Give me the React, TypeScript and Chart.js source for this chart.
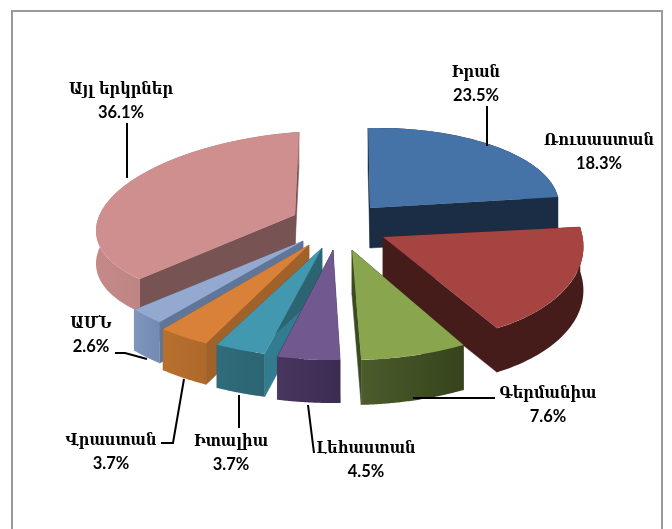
import React, { useEffect, useRef } from "react";
import { Chart, registerables } from "chart.js";

Chart.register(...registerables);

const countries = ["Իրան", "Ռուսաստան", "Գերմանիա", "Լեհաստան", "Իտալիա", "Վրաստան", "ԱՄՆ", "Այլ երկրներ"];
const shares = [23.5, 18.3, 7.6, 4.5, 3.7, 3.7, 2.6, 36.1];

const topColors = ["#4572a7", "#a64442", "#89a54e", "#71588f", "#4198af", "#d98139", "#93a9cf", "#cf8f8e"];
const wallColorsA = ["#1a2d45", "#461c1a", "#4c5c2c", "#49365f", "#2f6c7c", "#b8702e", "#7f96bd", "#c48a89"];
const wallColorsB = ["#1a2d45", "#461c1a", "#36431c", "#3d2c52", "#2c6472", "#ad682a", "#738bb0", "#a87170"];
const startFaceColors = ["#1a2d45", "#461c1a", "#36431c", "#3a2a4f", "#317c8e", "#a0622a", "#5f7699", "#785353"];
const endFaceColors = ["#1a2d45", "#461c1a", "#3c4a20", "#3a2a4f", "#2c6472", "#a0622a", "#5f7699", "#785353"];

// Explosion of each slice from the pie centre, and its fake-perspective projection
const shiftX = [35, 48, 17, -2, -13, -26, -32, -40];
const shiftY = [-18, 11, 24, 24, 22, 19, 15, -11];
const projA = [189, 199.6, 225, 224, 222, 224, 220, 199];
const projB = [-3.5, 0, -1.5, 0, 0, 0, 0, -14];
const projC = [2, 18, 0.7, -1.3, -3.5, 0, 0, -4];
const projD = [80, 105, 110, 110, 109, 111, 107, 83];
const depths = [40, 44, 45, 43, 43, 41, 41, 33];
const drawOrder = [7, 0, 1, 6, 5, 4, 3, 2];

// Label centres and leader lines
const labelX = [476, 599, 548, 366, 231, 111, 91, 121];
const labelY = [73, 141, 394, 449, 442, 441, 324, 90];
const leaders = [
  [[487, 106], [487, 146]],
  [],
  [[413, 398], [495, 398]],
  [[308, 405], [314, 453]],
  [[239, 395], [239, 428]],
  [[161, 443], [173, 443], [184, 379]],
  [[115, 353], [125, 353], [147, 359]],
  [[127, 123], [127, 178]],
];

const pie3d = {
  id: "pie3d",
  beforeDatasetsDraw(chart: any) {
    const ctx = chart.ctx;
    const arcs = chart.getDatasetMeta(0).data;
    for (const i of drawOrder) {
      const arc = arcs[i];
      const ax = arc.x + shiftX[i];
      const ay = arc.y + shiftY[i];
      const a = projA[i], b = projB[i], c = projC[i], d = projD[i];
      const pt = (phi: number, dy = 0): [number, number] => {
        const u = Math.cos(phi), v = Math.sin(phi);
        return [ax + a * u + c * v, ay + b * u + d * v + dy];
      };
      const s = arc.startAngle, e = arc.endAngle, h = depths[i];
      const quad = (phi: number, col: string) => {
        const p = pt(phi);
        ctx.beginPath();
        ctx.moveTo(ax, ay);
        ctx.lineTo(p[0], p[1]);
        ctx.lineTo(p[0], p[1] + h);
        ctx.lineTo(ax, ay + h);
        ctx.closePath();
        ctx.fillStyle = col;
        ctx.strokeStyle = col;
        ctx.lineWidth = 0.5;
        ctx.fill();
        ctx.stroke();
      };
      quad(s, startFaceColors[i]);
      quad(e, endFaceColors[i]);
      // outer curved wall
      const steps = 60;
      const pts: [number, number][] = [];
      for (let k = 0; k <= steps; k++) pts.push(pt(s + ((e - s) * k) / steps));
      const xs = pts.map((p) => p[0]);
      const g = ctx.createLinearGradient(Math.min(...xs), 0, Math.max(...xs), 0);
      g.addColorStop(0, wallColorsA[i]);
      g.addColorStop(1, wallColorsB[i]);
      ctx.beginPath();
      pts.forEach((p, k) => (k ? ctx.lineTo(p[0], p[1]) : ctx.moveTo(p[0], p[1])));
      for (let k = steps; k >= 0; k--) ctx.lineTo(pts[k][0], pts[k][1] + h);
      ctx.closePath();
      ctx.fillStyle = g;
      ctx.fill();
      // top face: the library's own arc element under the projection
      const R = arc.outerRadius;
      ctx.save();
      ctx.translate(ax, ay);
      ctx.transform(a / R, b / R, c / R, d / R, 0, 0);
      ctx.translate(-arc.x, -arc.y);
      arc.draw(ctx);
      ctx.restore();
    }
    return false;
  },
  afterDraw(chart: any) {
    const ctx = chart.ctx;
    ctx.save();
    // frame
    ctx.strokeStyle = "#999999";
    ctx.lineWidth = 2;
    ctx.beginPath();
    ctx.moveTo(12, 529);
    ctx.lineTo(12, 11);
    ctx.lineTo(662, 11);
    ctx.lineTo(662, 529);
    ctx.stroke();
    // leaders
    ctx.strokeStyle = "#000000";
    ctx.lineWidth = 2;
    leaders.forEach((line) => {
      if (!line.length) return;
      ctx.beginPath();
      line.forEach((p, k) => (k ? ctx.lineTo(p[0], p[1]) : ctx.moveTo(p[0], p[1])));
      ctx.stroke();
    });
    // labels
    ctx.fillStyle = "#000000";
    ctx.textAlign = "center";
    ctx.textBaseline = "middle";
    countries.forEach((name, i) => {
      ctx.save();
      ctx.translate(labelX[i], labelY[i]);
      ctx.scale(0.86, 1);
      ctx.font = 'bold 17px "DejaVu Serif"';
      ctx.fillText(name, 0, 0);
      ctx.restore();
      ctx.font = 'bold 16.5px Lato';
      ctx.fillText(shares[i].toFixed(1) + "%", labelX[i], labelY[i] + 23);
    });
    ctx.restore();
  },
};

export default function App() {
  const ref = useRef<HTMLCanvasElement>(null);
  useEffect(() => {
    const chart = new Chart(ref.current as HTMLCanvasElement, {
      type: "pie",
      data: {
        labels: countries,
        datasets: [{ data: shares, backgroundColor: topColors, borderWidth: 0 }],
      },
      options: {
        responsive: false,
        animation: false,
        radius: 100,
        layout: { padding: { left: 0, right: 2, top: 0, bottom: 77 } },
        plugins: { legend: { display: false }, tooltip: { enabled: false } },
      },
      plugins: [pie3d],
    } as any);
    return () => chart.destroy();
  }, []);
  return (
    <canvas
      ref={ref}
      width={672}
      height={529}
      style={{ position: "absolute", left: 0, top: 0, width: 672, height: 529, background: "#ffffff" }}
    />
  );
}
